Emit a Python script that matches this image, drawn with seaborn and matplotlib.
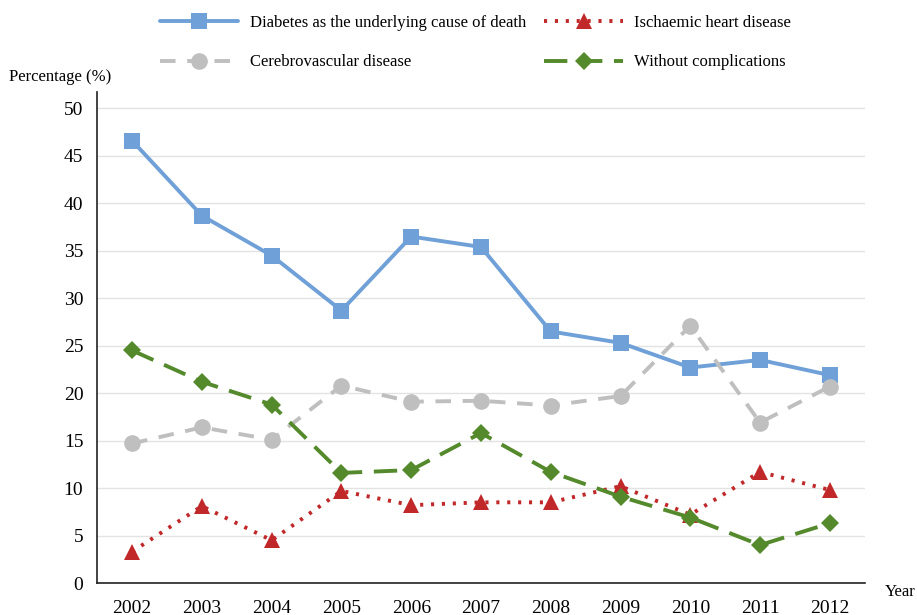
import matplotlib
matplotlib.use("Agg")
import matplotlib.pyplot as plt
import seaborn as sns
import pandas as pd

years = ["2002", "2003", "2004", "2005", "2006", "2007", "2008", "2009", "2010", "2011", "2012"]
diabetes = [46.6, 38.7, 34.5, 28.7, 36.5, 35.4, 26.5, 25.3, 22.7, 23.5, 21.9]
cerebro = [14.7, 16.4, 15.1, 20.8, 19.1, 19.2, 18.7, 19.7, 27.1, 16.9, 20.7]
ischaemic = [3.3, 8.1, 4.5, 9.7, 8.2, 8.5, 8.5, 10.2, 7.2, 11.7, 9.8]
without = [24.5, 21.2, 18.8, 11.6, 11.9, 15.8, 11.7, 9.1, 6.9, 4.0, 6.3]

series_names = ["Diabetes as the underlying cause of death", "Cerebrovascular disease",
                "Ischaemic heart disease", "Without complications"]
series_vals = [diabetes, cerebro, ischaemic, without]

sns.set_theme(style="white")
plt.rcParams['font.family'] = ['Liberation Serif', 'DejaVu Serif']
plt.rcParams['text.color'] = 'black'
plt.rcParams['xtick.color'] = 'black'
plt.rcParams['ytick.color'] = 'black'

fig = plt.figure(figsize=(9.17, 6.15), dpi=100)
ax = fig.add_axes([0.106, 0.052, 0.837, 0.798])

styles = [
    dict(color="#6FA0D7", linestyle="-", marker="s", markersize=12, linewidth=2.8),
    dict(color="#BFBFBF", linestyle=(0, (4, 3)), marker="o", markersize=12, linewidth=2.8),
    dict(color="#C0282A", linestyle=(0, (0.8, 2.0)), marker="^", markersize=12, linewidth=2.8),
    dict(color="#558A2C", linestyle=(0, (6, 3)), marker="D", markersize=9, linewidth=2.8),
]

xs = list(range(len(years)))
handles = []
for name, vals, st in zip(series_names, series_vals, styles):
    df = pd.DataFrame({"x": xs, "y": vals})
    sns.lineplot(data=df, x="x", y="y", ax=ax, color=st["color"], linestyle=st["linestyle"],
                 marker=st["marker"], markersize=st["markersize"], linewidth=st["linewidth"],
                 markeredgewidth=0, label=name, legend=False)
    handles.append(ax.lines[-1])

ax.set_xlim(-0.5, 10.5)
ax.set_ylim(0, 51.7)
ax.set_xticks(xs)
ax.set_xticklabels(years)
ax.set_yticks(range(0, 51, 5))
ax.tick_params(axis='both', labelsize=14, length=0, pad=10, labelcolor='black')
ax.tick_params(axis='x', pad=12)
ax.set_xlabel("")
ax.set_ylabel("")
ax.grid(axis='y', color="#E3E3E3", linewidth=1)
ax.set_axisbelow(True)
for s in ["top", "right"]:
    ax.spines[s].set_visible(False)
for s in ["left", "bottom"]:
    ax.spines[s].set_color("#222222")
    ax.spines[s].set_linewidth(1.2)

fig.text(0.01, 0.875, "Percentage (%)", fontsize=12, ha="left", va="center", color="black")
fig.text(0.965, 0.037, "Year", fontsize=12, ha="left", va="center", color="black")

fig.legend(handles=handles, labels=series_names, ncol=2, loc="upper left",
           bbox_to_anchor=(0.158, 1.0), frameon=False, fontsize=12,
           handlelength=4.7, handletextpad=0.7, columnspacing=1.1, labelspacing=1.4)

fig.savefig("out.png", dpi=100)
